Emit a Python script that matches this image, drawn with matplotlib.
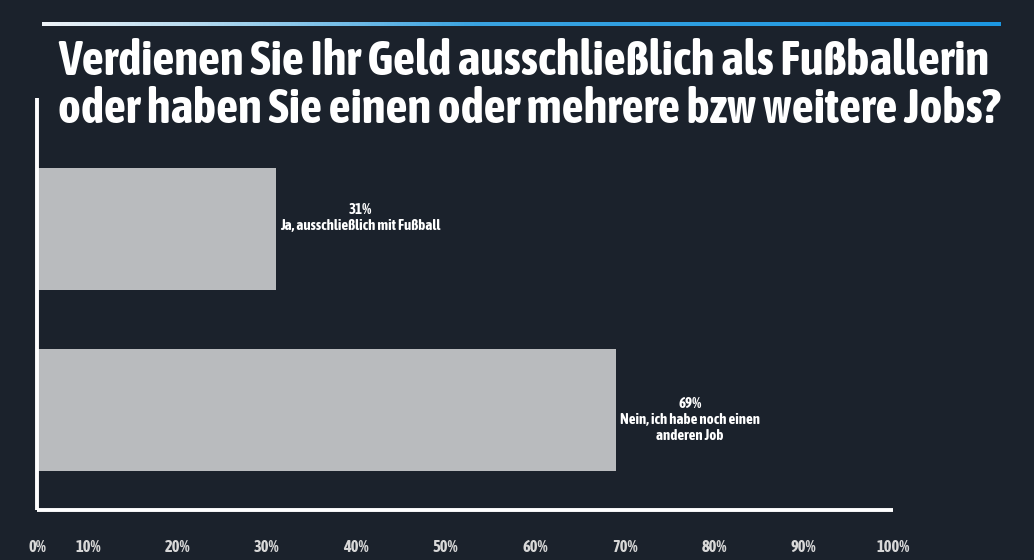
import matplotlib
matplotlib.use("Agg")
import matplotlib.pyplot as plt
import numpy as np
from matplotlib import font_manager as fm
from matplotlib.colors import LinearSegmentedColormap

categories = ["Ja, ausschließlich mit Fußball", "Nein, ich habe noch einen\nanderen Job"]
values = [31, 69]
tick_values = [10, 20, 30, 40, 50, 60, 70, 80, 90, 100]
tick_labels = ["10%", "20%", "30%", "40%", "50%", "60%", "70%", "80%", "90%", "100%"]
title_lines = ["Verdienen Sie Ihr Geld ausschließlich als Fußballerin",
               "oder haben Sie einen oder mehrere bzw weitere Jobs?"]

BG = "#1b222c"
BAR = "#b9bbbe"


def pick_font():
    for name in ["Asap Condensed", "IBM Plex Sans Condensed", "Barlow Semi Condensed"]:
        try:
            fm.findfont(fm.FontProperties(family=name, weight="bold"), fallback_to_default=False)
            return [name, "DejaVu Sans"], "normal"
        except Exception:
            pass
    return ["DejaVu Sans"], "condensed"


FAM, STRETCH = pick_font()
plt.rcParams['font.family'] = FAM

W, H = 1034, 560
fig = plt.figure(figsize=(W / 100, H / 100), dpi=100, facecolor=BG)
renderer = fig.canvas.get_renderer()


def fit_text(x, y, s, target_w, size0, **kw):
    t = fig.text(x, y, s, fontsize=size0, fontweight="bold", fontstretch=STRETCH, **kw)
    w = t.get_window_extent(renderer).width
    t.set_fontsize(size0 * target_w / w)
    return t


# gradient line at top
gax = fig.add_axes([42 / W, 1 - 26 / H, (1001 - 42) / W, 4 / H])
cmap = LinearSegmentedColormap.from_list("g", [(0, "#eef3f8"), (0.15, "#b9dcf0"), (0.45, "#3aa3e0"), (1, "#1c97e2")])
gax.imshow(np.linspace(0, 1, 300)[None, :], aspect="auto", cmap=cmap, extent=[0, 1, 0, 1])
gax.axis("off")

# title (two lines, explicit baselines), sized to the reference width
t2 = fit_text(58 / W, 1 - 123 / H, title_lines[1], 940, 30, ha="left", va="baseline", color="white")
fig.text(58 / W, 1 - 75 / H, title_lines[0], ha="left", va="baseline", color="white",
         fontsize=t2.get_fontsize(), fontweight="bold", fontstretch=STRETCH)

# main axes: left 37px, right 893px, top 98px, bottom 510px
ax = fig.add_axes([37 / W, 1 - 510 / H, (893 - 37) / W, (510 - 98) / H])
ax.set_facecolor(BG)
x_left = 4.3
ax.set_xlim(x_left, 100)
ax.set_ylim(1.552, -0.724)

y = np.arange(len(values))
ax.barh(y, values, height=0.67, color=BAR, left=0)

# label font size fitted to reference width of the first category line (~158 px)
probe = fig.text(0, 0, categories[0], fontsize=10, fontweight="bold", fontstretch=STRETCH)
lab_size = 10 * 158 / probe.get_window_extent(renderer).width
probe.remove()

label_dx = [9.4, 8.3]
label_dy = [-0.06, 0.055]
for i, (v, c) in enumerate(zip(values, categories)):
    ax.text(v + label_dx[i], y[i] + label_dy[i], f"{v}%\n{c}", ha="center", va="center",
            color="white", fontsize=lab_size, fontweight="bold", fontstretch=STRETCH, linespacing=1.15)

for s in ["top", "right"]:
    ax.spines[s].set_visible(False)
for s in ["left", "bottom"]:
    ax.spines[s].set_color("white")
    ax.spines[s].set_linewidth(2.8)
    ax.spines[s].set_capstyle("butt")

ax.set_yticks([])
ax.set_xticks([x_left] + tick_values)
ax.set_xticklabels(["0%"] + tick_labels)
ax.tick_params(axis="x", length=0, pad=21, colors="#d8d8d8", labelsize=lab_size * 1.1)
for lbl in ax.get_xticklabels():
    lbl.set_fontweight("bold")
    lbl.set_fontstretch(STRETCH)

fig.savefig("out.png", dpi=100, facecolor=BG)
